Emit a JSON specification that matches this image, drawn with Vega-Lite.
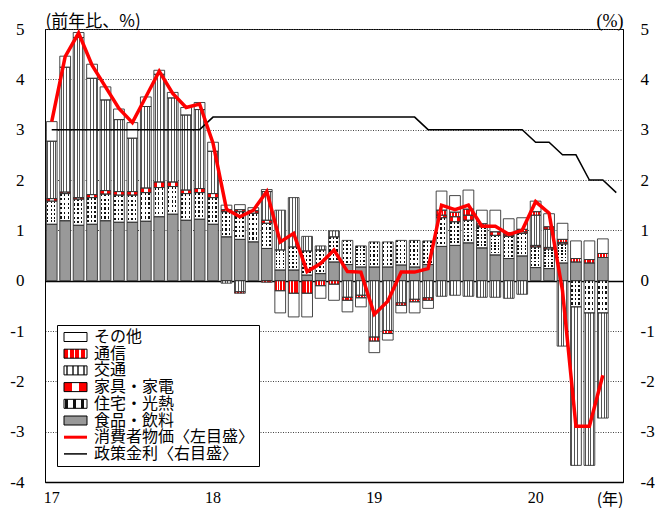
{
  "$schema": "https://vega.github.io/schema/vega-lite/v6.json",
  "width": 578,
  "height": 453,
  "autosize": {"type": "none"},
  "padding": {"left": 45, "top": 29, "right": 33, "bottom": 26},
  "background": "white",
  "config": {"view": {"stroke": "#000", "strokeWidth": 1}, "font": "Noto Sans CJK JP"},
  "data": {"values": [
    {"m": "2017-01", "食品・飲料": 1.12, "住宅・光熱": 0.46, "家具・家電": 0.05, "交通": 1.14, "通信": 0, "その他": 0.39, "cpi": 3.16, "rate": 3.0},
    {"m": "2017-02", "食品・飲料": 1.19, "住宅・光熱": 0.54, "家具・家電": 0.03, "交通": 2.48, "通信": 0, "その他": 0.22, "cpi": 4.45, "rate": 3.0},
    {"m": "2017-03", "食品・飲料": 1.10, "住宅・光熱": 0.52, "家具・家電": 0.03, "交通": 3.18, "通信": 0, "その他": 0.10, "cpi": 4.92, "rate": 3.0},
    {"m": "2017-04", "食品・飲料": 1.12, "住宅・光熱": 0.53, "家具・家電": 0.06, "交通": 2.31, "通信": 0, "その他": 0.28, "cpi": 4.28, "rate": 3.0},
    {"m": "2017-05", "食品・飲料": 1.19, "住宅・光熱": 0.53, "家具・家電": 0.07, "交通": 1.80, "通信": 0, "その他": 0.26, "cpi": 3.85, "rate": 3.0},
    {"m": "2017-06", "食品・飲料": 1.16, "住宅・光熱": 0.54, "家具・家電": 0.07, "交通": 1.43, "通信": 0, "その他": 0.21, "cpi": 3.42, "rate": 3.0},
    {"m": "2017-07", "食品・飲料": 1.16, "住宅・光熱": 0.54, "家具・家電": 0.07, "交通": 1.06, "通信": 0, "その他": 0.31, "cpi": 3.14, "rate": 3.0},
    {"m": "2017-08", "食品・飲料": 1.18, "住宅・光熱": 0.57, "家具・家電": 0.09, "交通": 1.62, "通信": 0, "その他": 0.19, "cpi": 3.65, "rate": 3.0},
    {"m": "2017-09", "食品・飲料": 1.27, "住宅・光熱": 0.58, "家具・家電": 0.11, "交通": 2.14, "通信": 0, "その他": 0.08, "cpi": 4.16, "rate": 3.0},
    {"m": "2017-10", "食品・飲料": 1.32, "住宅・光熱": 0.55, "家具・家電": 0.09, "交通": 1.67, "通信": 0, "その他": 0.11, "cpi": 3.72, "rate": 3.0},
    {"m": "2017-11", "食品・飲料": 1.20, "住宅・光熱": 0.53, "家具・家電": 0.07, "交通": 1.49, "通信": 0, "その他": 0.15, "cpi": 3.44, "rate": 3.0},
    {"m": "2017-12", "食品・飲料": 1.22, "住宅・光熱": 0.53, "家具・家電": 0.08, "交通": 1.57, "通信": 0, "その他": 0.14, "cpi": 3.51, "rate": 3.0},
    {"m": "2018-01", "食品・飲料": 1.12, "住宅・光熱": 0.53, "家具・家電": 0.08, "交通": 0.84, "通信": 0, "その他": 0.18, "cpi": 2.73, "rate": 3.25},
    {"m": "2018-02", "食品・飲料": 0.87, "住宅・光熱": 0.50, "家具・家電": 0.04, "交通": -0.05, "通信": 0, "その他": 0.09, "cpi": 1.42, "rate": 3.25},
    {"m": "2018-03", "食品・飲料": 0.82, "住宅・光熱": 0.55, "家具・家電": 0.04, "交通": -0.22, "通信": -0.03, "その他": 0.10, "cpi": 1.27, "rate": 3.25},
    {"m": "2018-04", "食品・飲料": 0.77, "住宅・光熱": 0.57, "家具・家電": 0.05, "交通": 0, "通信": 0, "その他": 0.06, "cpi": 1.40, "rate": 3.25},
    {"m": "2018-05", "食品・飲料": 0.64, "住宅・光熱": 0.50, "家具・家電": 0.06, "交通": 0.57, "通信": -0.03, "その他": 0.04, "cpi": 1.77, "rate": 3.25},
    {"m": "2018-06", "食品・飲料": 0.21, "住宅・光熱": 0.40, "家具・家電": 0, "交通": 0.79, "通信": -0.20, "その他": -0.44, "cpi": 0.77, "rate": 3.25},
    {"m": "2018-07", "食品・飲料": 0.21, "住宅・光熱": 0.46, "家具・家電": 0, "交通": 0.98, "通信": -0.25, "その他": -0.47, "cpi": 0.94, "rate": 3.25},
    {"m": "2018-08", "食品・飲料": 0.11, "住宅・光熱": 0.48, "家具・家電": 0, "交通": 0.29, "通信": -0.25, "その他": -0.47, "cpi": 0.18, "rate": 3.25},
    {"m": "2018-09", "食品・飲料": 0.14, "住宅・光熱": 0.47, "家具・家電": 0, "交通": 0.08, "通信": -0.10, "その他": -0.25, "cpi": 0.34, "rate": 3.25},
    {"m": "2018-10", "食品・飲料": 0.37, "住宅・光熱": 0.50, "家具・家電": 0, "交通": 0.12, "通信": -0.07, "その他": -0.32, "cpi": 0.61, "rate": 3.25},
    {"m": "2018-11", "食品・飲料": 0.32, "住宅・光熱": 0.48, "家具・家電": 0, "交通": -0.33, "通信": -0.06, "その他": -0.23, "cpi": 0.18, "rate": 3.25},
    {"m": "2018-12", "食品・飲料": 0.27, "住宅・光熱": 0.42, "家具・家電": 0, "交通": -0.29, "通信": -0.05, "その他": -0.18, "cpi": 0.17, "rate": 3.25},
    {"m": "2019-01", "食品・飲料": 0.27, "住宅・光熱": 0.50, "家具・家電": 0, "交通": -1.12, "通信": -0.08, "その他": -0.23, "cpi": -0.67, "rate": 3.25},
    {"m": "2019-02", "食品・飲料": 0.27, "住宅・光熱": 0.50, "家具・家電": 0, "交通": -0.99, "通信": -0.06, "その他": -0.13, "cpi": -0.41, "rate": 3.25},
    {"m": "2019-03", "食品・飲料": 0.31, "住宅・光熱": 0.49, "家具・家電": 0, "交通": -0.44, "通信": -0.05, "その他": -0.15, "cpi": 0.17, "rate": 3.25},
    {"m": "2019-04", "食品・飲料": 0.27, "住宅・光熱": 0.53, "家具・家電": 0, "交通": -0.37, "通信": -0.05, "その他": -0.22, "cpi": 0.17, "rate": 3.25},
    {"m": "2019-05", "食品・飲料": 0.32, "住宅・光熱": 0.47, "家具・家電": 0, "交通": -0.34, "通信": -0.05, "その他": -0.16, "cpi": 0.24, "rate": 3.0},
    {"m": "2019-06", "食品・飲料": 0.68, "住宅・光熱": 0.57, "家具・家電": 0.05, "交通": -0.31, "通信": 0.10, "その他": 0.38, "cpi": 1.50, "rate": 3.0},
    {"m": "2019-07", "食品・飲料": 0.70, "住宅・光熱": 0.47, "家具・家電": 0.10, "交通": -0.29, "通信": 0.09, "その他": 0.33, "cpi": 1.41, "rate": 3.0},
    {"m": "2019-08", "食品・飲料": 0.75, "住宅・光熱": 0.45, "家具・家電": 0.10, "交通": -0.31, "通信": 0.12, "その他": 0.38, "cpi": 1.50, "rate": 3.0},
    {"m": "2019-09", "食品・飲料": 0.65, "住宅・光熱": 0.42, "家具・家電": 0.02, "交通": -0.33, "通信": 0.04, "その他": 0.27, "cpi": 1.08, "rate": 3.0},
    {"m": "2019-10", "食品・飲料": 0.51, "住宅・光熱": 0.39, "家具・家電": 0.07, "交通": -0.33, "通信": 0, "その他": 0.43, "cpi": 1.08, "rate": 3.0},
    {"m": "2019-11", "食品・飲料": 0.44, "住宅・光熱": 0.44, "家具・家電": 0.03, "交通": -0.35, "通信": 0.04, "その他": 0.28, "cpi": 0.92, "rate": 3.0},
    {"m": "2019-12", "食品・飲料": 0.49, "住宅・光熱": 0.45, "家具・家電": 0.03, "交通": -0.27, "通信": 0.05, "その他": 0.23, "cpi": 1.00, "rate": 3.0},
    {"m": "2020-01", "食品・飲料": 0.26, "住宅・光熱": 0.41, "家具・家電": 0.03, "交通": 0.60, "通信": 0.07, "その他": 0.21, "cpi": 1.57, "rate": 2.75},
    {"m": "2020-02", "食品・飲料": 0.24, "住宅・光熱": 0.39, "家具・家電": 0.03, "交通": 0.36, "通信": 0.05, "その他": 0.26, "cpi": 1.34, "rate": 2.75},
    {"m": "2020-03", "食品・飲料": 0.35, "住宅・光熱": 0.38, "家具・家電": 0.03, "交通": -1.30, "通信": 0.06, "その他": 0.32, "cpi": -0.20, "rate": 2.5},
    {"m": "2020-04", "食品・飲料": 0.37, "住宅・光熱": -0.52, "家具・家電": 0, "交通": -3.15, "通信": 0.07, "その他": 0.35, "cpi": -2.89, "rate": 2.5},
    {"m": "2020-05", "食品・飲料": 0.35, "住宅・光熱": -0.64, "家具・家電": 0, "交通": -3.03, "通信": 0.07, "その他": 0.37, "cpi": -2.89, "rate": 2.0},
    {"m": "2020-06", "食品・飲料": 0.46, "住宅・光熱": -0.64, "家具・家電": 0, "交通": -2.09, "通信": 0.08, "その他": 0.29, "cpi": -1.88, "rate": 2.0},
    {"m": "2020-07", "rate": 1.75}
  ]},
  "encoding": {
    "x": {
      "field": "m", "type": "ordinal",
      "scale": {"paddingInner": 0.2, "paddingOuter": 0.1},
      "axis": {
        "orient": "bottom",
        "labelExpr": "substring(datum.value, 5, 7) == '01' ? substring(datum.value, 2, 4) : ''",
        "labelOverlap": false,
        "ticks": false, "domain": true, "domainColor": "#000", "domainWidth": 1.5,
        "labelFont": "Liberation Serif, Times New Roman, serif", "labelFontSize": 16, "labelColor": "#000",
        "labelPadding": 7, "labelAngle": 0, "grid": false,
        "title": "(年)", "titleFont": "Noto Sans CJK JP", "titleFontSize": 16,
        "titleFontWeight": "normal", "titleColor": "#000",
        "titleAlign": "right", "titleBaseline": "middle",
        "titleX": 578, "titleY": 17
      }
    }
  },
  "layer": [
    {
      "transform": [
        {"fold": ["食品・飲料", "住宅・光熱", "家具・家電", "交通", "通信", "その他"], "as": ["cat", "v"]},
        {"filter": "isValid(datum.v) && datum.v != 0"},
        {"calculate": "indexof(['食品・飲料','住宅・光熱','家具・家電','交通','通信','その他'], datum.cat)", "as": "k"},
        {"stack": "v", "groupby": ["m"], "sort": [{"field": "k", "order": "ascending"}], "as": ["y0", "y1"], "offset": "zero"}
      ],
      "encoding": {
        "y": {
          "field": "y0", "type": "quantitative",
          "scale": {"domain": [-4, 5], "nice": false},
          "axis": {
            "orient": "left", "values": [-4, -3, -2, -1, 0, 1, 2, 3, 4, 5],
            "labelExpr": "'' + datum.value",
            "grid": true,
            "gridDash": {"condition": {"test": "datum.value == 0", "value": []}, "value": [1, 1.5]},
            "gridColor": {"condition": {"test": "datum.value == 0", "value": "#000"}, "value": "#444"},
            "gridWidth": {"condition": {"test": "datum.value == 0", "value": 1.5}, "value": 1},
            "ticks": false, "domain": true, "domainColor": "#000",
            "labelFont": "Liberation Serif, Times New Roman, serif", "labelFontSize": 17, "labelColor": "#000", "labelPadding": 21,
            "title": "(前年比、%)", "titleAngle": 0, "titleAlign": "left", "titleBaseline": "middle",
            "titleX": 0, "titleY": -8, "titleFont": "Noto Sans CJK JP", "titleFontSize": 17,
            "titleFontWeight": "normal", "titleColor": "#000"
          }
        },
        "y2": {"field": "y1"}
      },
      "layer": [
        {
          "mark": {"type": "bar", "strokeWidth": 0},
          "encoding": {
            "fill": {
              "field": "cat", "type": "nominal",
              "scale": {
                "domain": ["その他", "通信", "交通", "家具・家電", "住宅・光熱", "食品・飲料", "消費者物価〈左目盛〉", "政策金利〈右目盛〉"],
                "range": [
                  "#ffffff",
                  {"expr": "{gradient:'linear',x1:0,y1:0,x2:1,y2:0,stops:[{offset:0,color:'#ff0000'},{offset:0.17,color:'#ff0000'},{offset:0.17,color:'#ffffff'},{offset:0.25,color:'#ffffff'},{offset:0.25,color:'#ff0000'},{offset:0.42,color:'#ff0000'},{offset:0.42,color:'#ffffff'},{offset:0.5,color:'#ffffff'},{offset:0.5,color:'#ff0000'},{offset:0.67,color:'#ff0000'},{offset:0.67,color:'#ffffff'},{offset:0.75,color:'#ffffff'},{offset:0.75,color:'#ff0000'},{offset:0.92,color:'#ff0000'},{offset:0.92,color:'#ffffff'},{offset:1,color:'#ffffff'}]}"},
                  {"expr": "{gradient:'linear',x1:0,y1:0,x2:1,y2:0,stops:[{offset:0,color:'#ffffff'},{offset:0.08,color:'#ffffff'},{offset:0.08,color:'#555555'},{offset:0.17,color:'#555555'},{offset:0.17,color:'#ffffff'},{offset:0.33,color:'#ffffff'},{offset:0.33,color:'#555555'},{offset:0.42,color:'#555555'},{offset:0.42,color:'#ffffff'},{offset:0.58,color:'#ffffff'},{offset:0.58,color:'#555555'},{offset:0.67,color:'#555555'},{offset:0.67,color:'#ffffff'},{offset:0.83,color:'#ffffff'},{offset:0.83,color:'#555555'},{offset:0.92,color:'#555555'},{offset:0.92,color:'#ffffff'},{offset:1,color:'#ffffff'}]}"},
                  {"expr": "{gradient:'linear',x1:0,y1:0,x2:1,y2:0,stops:[{offset:0,color:'#ff0000'},{offset:0.33,color:'#ff0000'},{offset:0.33,color:'#ffffff'},{offset:0.67,color:'#ffffff'},{offset:0.67,color:'#ff0000'},{offset:1,color:'#ff0000'}]}"},
                  {"expr": "{gradient:'linear',x1:0,y1:0,x2:1,y2:0,stops:[{offset:0,color:'#ffffff'},{offset:0.06,color:'#ffffff'},{offset:0.06,color:'#111111'},{offset:0.19,color:'#111111'},{offset:0.19,color:'#ffffff'},{offset:0.39,color:'#ffffff'},{offset:0.39,color:'#111111'},{offset:0.52,color:'#111111'},{offset:0.52,color:'#ffffff'},{offset:0.72,color:'#ffffff'},{offset:0.72,color:'#111111'},{offset:0.85,color:'#111111'},{offset:0.85,color:'#ffffff'},{offset:1,color:'#ffffff'}]}"},
                  "#999999",
                  "transparent",
                  "transparent"
                ]
              },
              "legend": {
                "orient": "none", "legendX": 12, "legendY": 296,
                "title": null, "padding": 4, "strokeColor": "#000", "fillColor": "#fff",
                "rowPadding": 0.7, "labelFont": "Noto Sans CJK JP", "labelFontSize": 16, "labelColor": "#000",
                "labelOffset": 17, "symbolSize": 100, "labelLimit": 300,
                "encode": {
                  "symbols": {
                    "update": {
                      "shape": {"signal": "datum.value == '消費者物価〈左目盛〉' || datum.value == '政策金利〈右目盛〉' ? 'M-1,0H3.6' : 'M-1,-0.9H3.6V0.9H-1Z'"},
                      "stroke": {"signal": "datum.value == '消費者物価〈左目盛〉' ? '#ff0000' : '#000000'"},
                      "strokeWidth": {"signal": "datum.value == '消費者物価〈左目盛〉' ? 3 : datum.value == '政策金利〈右目盛〉' ? 1.5 : 1"}
                    }
                  }
                }
              }
            }
          }
        },
        {
          "transform": [{"filter": "datum.cat == '住宅・光熱'"}],
          "mark": {
            "type": "bar", "strokeWidth": 0,
            "fill": {"gradient": "linear", "x1": 0, "y1": 0, "x2": 0, "y2": 1, "stops": [
              {"offset": 0, "color": "rgba(255,255,255,0)"}, {"offset": 0.083, "color": "rgba(255,255,255,0)"}, {"offset": 0.083, "color": "#ffffff"}, {"offset": 0.167, "color": "#ffffff"},
              {"offset": 0.167, "color": "rgba(255,255,255,0)"}, {"offset": 0.25, "color": "rgba(255,255,255,0)"}, {"offset": 0.25, "color": "#ffffff"}, {"offset": 0.333, "color": "#ffffff"},
              {"offset": 0.333, "color": "rgba(255,255,255,0)"}, {"offset": 0.417, "color": "rgba(255,255,255,0)"}, {"offset": 0.417, "color": "#ffffff"}, {"offset": 0.5, "color": "#ffffff"},
              {"offset": 0.5, "color": "rgba(255,255,255,0)"}, {"offset": 0.583, "color": "rgba(255,255,255,0)"}, {"offset": 0.583, "color": "#ffffff"}, {"offset": 0.667, "color": "#ffffff"},
              {"offset": 0.667, "color": "rgba(255,255,255,0)"}, {"offset": 0.75, "color": "rgba(255,255,255,0)"}, {"offset": 0.75, "color": "#ffffff"}, {"offset": 0.833, "color": "#ffffff"},
              {"offset": 0.833, "color": "rgba(255,255,255,0)"}, {"offset": 0.917, "color": "rgba(255,255,255,0)"}, {"offset": 0.917, "color": "#ffffff"}, {"offset": 1, "color": "#ffffff"}]}
          }
        },
        {
          "mark": {"type": "bar", "fill": "transparent", "stroke": "#333333", "strokeWidth": 0.9}
        }
      ]
    },
    {
      "transform": [{"filter": "isValid(datum.rate)"}],
      "mark": {"type": "line", "stroke": "#000", "strokeWidth": 1.5},
      "encoding": {
        "y": {
          "field": "rate", "type": "quantitative",
          "scale": {"domain": [-4, 5], "nice": false},
          "axis": {
            "orient": "right", "values": [-4, -3, -2, -1, 0, 1, 2, 3, 4, 5],
            "labelExpr": "'' + datum.value",
            "grid": false, "ticks": false, "domain": true, "domainColor": "#000",
            "labelFont": "Liberation Serif, Times New Roman, serif", "labelFontSize": 17, "labelColor": "#000", "labelPadding": 17,
            "title": "(%)", "titleAngle": 0, "titleAlign": "right", "titleBaseline": "middle",
            "titleX": 0, "titleY": -8, "titleFont": "Liberation Serif, Times New Roman, serif", "titleFontSize": 18,
            "titleFontWeight": "normal", "titleColor": "#000"
          }
        }
      }
    },
    {
      "transform": [{"filter": "isValid(datum.cpi)"}],
      "mark": {"type": "line", "stroke": "#ff0000", "strokeWidth": 3.5},
      "encoding": {
        "y": {"field": "cpi", "type": "quantitative", "scale": {"domain": [-4, 5], "nice": false}, "axis": null}
      }
    }
  ],
  "resolve": {"scale": {"y": "independent"}, "axis": {"y": "independent"}}
}
